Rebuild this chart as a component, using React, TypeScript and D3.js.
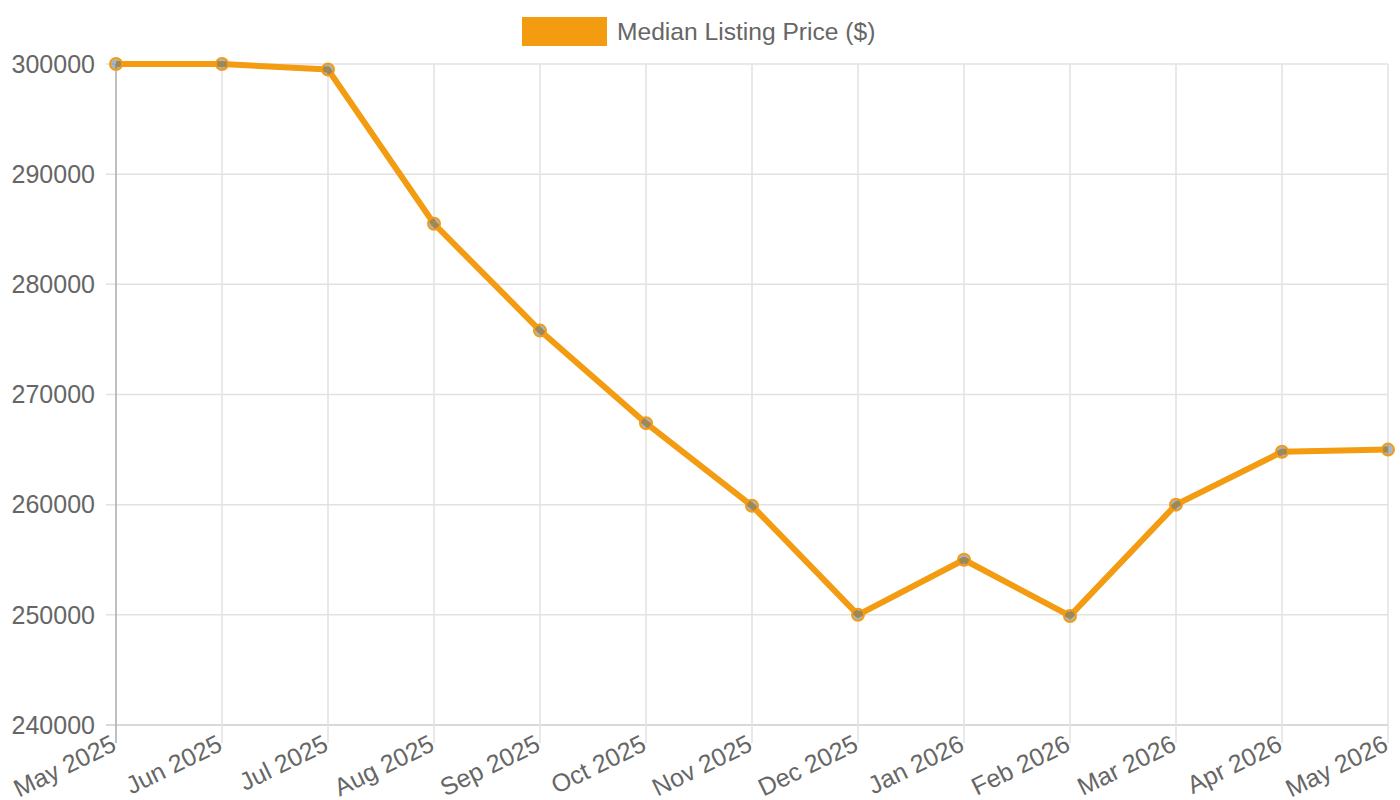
import * as d3 from 'd3';
import * as React from 'react';

const months = [
    'May 2025', 'Jun 2025', 'Jul 2025', 'Aug 2025', 'Sep 2025', 'Oct 2025', 'Nov 2025',
    'Dec 2025', 'Jan 2026', 'Feb 2026', 'Mar 2026', 'Apr 2026', 'May 2026',
];
const prices = [
    300000, 300000, 299500, 285500, 275800, 267400, 259900,
    250000, 255000, 249900, 260000, 264800, 265000,
];
const yTicks = [240000, 250000, 260000, 270000, 280000, 290000, 300000];
const seriesLabel = 'Median Listing Price ($)';

const width = 1400;
const height = 800;
const left = 116;
const right = 1388;
const top = 64;
const bottom = 725;
const orange = '#f39c12';
const textColor = '#666';
const font = '"Liberation Sans", Arial, sans-serif';
const fontSize = 25;

export default function App() {
    const x = d3.scalePoint<string>().domain(months).range([left, right]);
    const y = d3.scaleLinear().domain([240000, 300000]).range([bottom, top]);
    const line = d3.line<number>()
        .x((_, i) => x(months[i]) as number)
        .y(d => y(d));

    return (
        <svg
            width={width}
            height={height}
            style={{ position: 'absolute', left: 0, top: 0, fontFamily: font }}
        >
            {/* legend */}
            <rect x={522} y={17} width={85} height={29} fill={orange} />
            <text x={617} y={40} fontSize={24.6} fill={textColor}>{seriesLabel}</text>

            {/* horizontal grid */}
            {yTicks.map(t => (
                <g key={t}>
                    <line x1={left - 10} x2={right} y1={y(t)} y2={y(t)}
                        stroke={t === 240000 ? '#ccc' : '#e2e2e2'} strokeWidth={1.5} />
                    <text x={95} y={y(t)} dy="0.35em" textAnchor="end" fontSize={fontSize} fill={textColor}>{t}</text>
                </g>
            ))}

            {/* vertical grid */}
            {months.map((m, i) => (
                <g key={m + i}>
                    <line x1={x(m)} x2={x(m)} y1={top} y2={bottom + 18}
                        stroke={i === 0 ? '#aaa' : '#e2e2e2'} strokeWidth={1.5} />
                    <text
                        transform={`translate(${(x(m) as number) - 6},${bottom + 9}) rotate(-26)`}
                        textAnchor="end" fontSize={fontSize} fill={textColor} dy="0.7em"
                    >{m}</text>
                </g>
            ))}

            <path d={line(prices) ?? ''} fill="none" stroke={orange} strokeWidth={6} strokeLinejoin="round" />
            {prices.map((p, i) => (
                <circle key={i} cx={x(months[i])} cy={y(p)} r={6}
                    fill="rgba(81,113,145,0.5)" stroke={orange} strokeWidth={2} />
            ))}
        </svg>
    );
}
